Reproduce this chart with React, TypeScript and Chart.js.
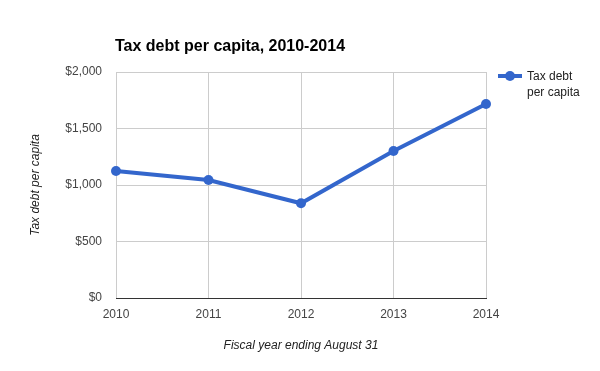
import React, { useEffect, useRef } from "react";
import { Chart, registerables } from "chart.js";

Chart.register(...registerables);

const years = ["2010", "2011", "2012", "2013", "2014"];
const taxDebt = [1124, 1044, 838, 1301, 1717];
const yTicks = [0, 500, 1000, 1500, 2000];
const chartTitle = "Tax debt per capita, 2010-2014";
const seriesLabel = "Tax debt per capita";
const legendLines = ["Tax debt", "per capita"];
const xTitle = "Fiscal year ending August 31";
const yTitle = "Tax debt per capita";

const FONT = "'Liberation Sans', Arial, sans-serif";
const BLUE = "#3366cc";

const overlayPlugin = {
  id: "overlay",
  afterDraw(chart: any) {
    const ctx = chart.ctx;
    ctx.save();
    ctx.fillStyle = "#000";
    ctx.font = `bold 16px ${FONT}`;
    ctx.textAlign = "left";
    ctx.textBaseline = "alphabetic";
    ctx.fillText(chartTitle, 115, 51);

    // legend
    ctx.strokeStyle = BLUE;
    ctx.lineWidth = 4;
    ctx.beginPath();
    ctx.moveTo(498, 76);
    ctx.lineTo(522, 76);
    ctx.stroke();
    ctx.fillStyle = BLUE;
    ctx.beginPath();
    ctx.arc(510, 76, 5, 0, Math.PI * 2);
    ctx.fill();
    ctx.fillStyle = "#222";
    ctx.font = `12px ${FONT}`;
    ctx.textBaseline = "middle";
    legendLines.forEach((t, i) => ctx.fillText(t, 527, 77 + i * 16));
    ctx.restore();
  },
};

export default function App() {
  const ref = useRef<HTMLCanvasElement>(null);
  useEffect(() => {
    if (!ref.current) return;
    const chart = new Chart(ref.current, {
      type: "line",
      data: {
        labels: years,
        datasets: [
          {
            label: seriesLabel,
            data: taxDebt,
            borderColor: BLUE,
            backgroundColor: BLUE,
            borderWidth: 4,
            pointRadius: 5,
            pointBackgroundColor: BLUE,
            pointBorderWidth: 0,
            tension: 0,
          },
        ],
      },
      options: {
        animation: false,
        responsive: false,
        layout: { padding: { top: 72, right: 114, left: 0, bottom: 0 } },
        plugins: { legend: { display: false }, title: { display: false }, tooltip: { enabled: false } },
        scales: {
          x: {
            type: "category",
            offset: false,
            grid: { color: "#cccccc", drawTicks: false },
            border: { display: true, color: "#333333", width: 1 },
            ticks: { color: "#444", font: { family: FONT, size: 12 }, padding: 9 },
            title: {
              display: true,
              text: xTitle,
              color: "#222",
              font: { family: FONT, size: 12, style: "italic" },
              padding: { top: 0, bottom: 18 },
            },
            afterFit(scale: any) {
              scale.height = 73;
            },
          },
          y: {
            min: 0,
            max: 2000,
            afterBuildTicks(scale: any) {
              scale.ticks = yTicks.map((v) => ({ value: v }));
            },
            grid: { color: "#cccccc", drawTicks: false },
            border: { display: false },
            ticks: {
              color: "#444",
              font: { family: FONT, size: 12 },
              padding: 14,
              callback: (v: any) => "$" + Number(v).toLocaleString("en-US"),
            },
            title: {
              display: true,
              text: yTitle,
              color: "#222",
              font: { family: FONT, size: 12, style: "italic" },
              padding: { top: 28, bottom: 0 },
            },
            afterFit(scale: any) {
              scale.width = 116;
            },
          },
        },
      },
      plugins: [overlayPlugin],
    });
    return () => chart.destroy();
  }, []);
  return (
    <div style={{ position: "fixed", left: 0, top: 0, width: 600, height: 371, background: "#fff" }}>
      <canvas ref={ref} width={600} height={371} style={{ width: 600, height: 371, display: "block" }} />
    </div>
  );
}
